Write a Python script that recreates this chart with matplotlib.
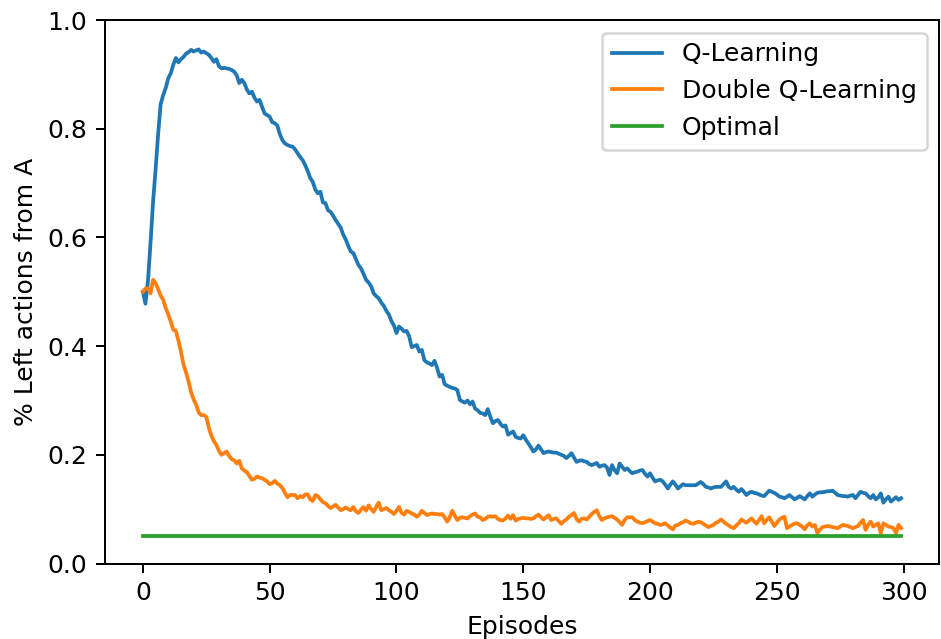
import numpy as np
import matplotlib
matplotlib.use("Agg")
import matplotlib.pyplot as plt

q_learning = [
    .500, .478, .520, .590, .665, .725, .790, .845, .862, .875,
    .893, .902, .918, .930, .922, .928, .932, .938, .941, .945,
    .942, .944, .946, .940, .942, .939, .936, .930, .923, .928,
    .915, .911, .912, .911, .910, .908, .905, .898, .884, .890,
    .884, .872, .865, .868, .857, .850, .853, .840, .828, .825,
    .822, .812, .810, .806, .790, .779, .773, .770, .768, .767,
    .762, .755, .748, .742, .733, .722, .709, .702, .688, .681,
    .684, .664, .663, .650, .647, .640, .632, .625, .618, .605,
    .596, .584, .574, .571, .560, .549, .543, .533, .522, .517,
    .510, .497, .492, .488, .480, .474, .465, .458, .446, .438,
    .424, .436, .432, .427, .428, .418, .398, .400, .402, .390,
    .393, .374, .370, .368, .365, .373, .360, .344, .347, .330,
    .327, .325, .323, .322, .319, .301, .298, .296, .300, .293,
    .298, .285, .282, .277, .276, .273, .284, .270, .258, .262,
    .264, .257, .252, .254, .237, .240, .243, .233, .231, .230,
    .236, .228, .221, .214, .206, .210, .217, .210, .203, .205,
    .206, .205, .204, .204, .202, .200, .198, .194, .198, .203,
    .195, .187, .189, .190, .188, .187, .183, .181, .183, .185,
    .178, .180, .181, .177, .163, .181, .172, .166, .184, .178,
    .172, .175, .170, .166, .168, .169, .171, .172, .165, .160,
    .166, .158, .151, .153, .154, .151, .145, .138, .145, .151,
    .145, .138, .142, .146, .144, .144, .144, .144, .144, .147,
    .150, .146, .141, .140, .138, .140, .141, .141, .141, .146,
    .151, .141, .138, .141, .136, .132, .137, .132, .126, .130,
    .132, .130, .129, .127, .125, .124, .129, .134, .132, .130,
    .127, .123, .122, .120, .123, .126, .122, .118, .121, .124,
    .121, .118, .124, .129, .123, .127, .130, .131, .131, .132,
    .133, .133, .134, .130, .126, .125, .124, .124, .123, .125,
    .126, .120, .126, .132, .130, .129, .124, .120, .126, .118,
    .122, .129, .112, .118, .123, .114, .118, .122, .117, .120,
]

double_q_learning = [
    .500, .506, .506, .497, .522, .516, .505, .493, .485, .470,
    .458, .445, .430, .428, .410, .390, .366, .352, .335, .315,
    .302, .292, .278, .273, .273, .270, .250, .235, .225, .218,
    .207, .200, .203, .206, .198, .192, .190, .184, .189, .175,
    .171, .168, .161, .154, .156, .160, .158, .157, .154, .151,
    .146, .148, .152, .147, .144, .139, .130, .122, .126, .126,
    .126, .120, .124, .122, .127, .127, .118, .115, .126, .124,
    .118, .113, .111, .106, .102, .105, .108, .103, .098, .100,
    .103, .100, .098, .104, .096, .093, .099, .104, .097, .107,
    .100, .095, .104, .112, .098, .100, .102, .098, .095, .091,
    .097, .104, .093, .090, .097, .095, .092, .090, .086, .090,
    .097, .093, .089, .091, .092, .091, .091, .090, .091, .085,
    .077, .085, .097, .088, .080, .084, .085, .084, .083, .087,
    .090, .092, .086, .085, .080, .082, .086, .087, .086, .087,
    .082, .080, .079, .083, .088, .082, .089, .079, .082, .083,
    .084, .083, .083, .082, .083, .087, .090, .085, .081, .085,
    .089, .080, .082, .083, .078, .073, .078, .081, .086, .089,
    .093, .082, .077, .082, .083, .081, .086, .091, .095, .098,
    .087, .080, .083, .085, .086, .087, .084, .081, .076, .071,
    .080, .085, .085, .085, .080, .077, .075, .074, .076, .078,
    .080, .077, .074, .073, .071, .072, .074, .070, .066, .063,
    .070, .071, .074, .076, .079, .077, .074, .073, .075, .077,
    .076, .073, .070, .067, .069, .071, .075, .077, .081, .077,
    .073, .070, .067, .065, .070, .074, .081, .078, .075, .079,
    .083, .078, .073, .080, .087, .074, .080, .085, .077, .069,
    .075, .081, .084, .086, .065, .068, .071, .073, .074, .071,
    .068, .063, .070, .074, .068, .071, .056, .062, .067, .068,
    .069, .068, .067, .066, .065, .068, .071, .070, .069, .067,
    .065, .067, .069, .075, .080, .062, .071, .077, .068, .071,
    .074, .056, .074, .071, .068, .067, .065, .056, .071, .065,
]

optimal_value = 0.05
labels = ["Q-Learning", "Double Q-Learning", "Optimal"]

episodes = np.arange(len(q_learning))

DPI = 180
fig = plt.figure(figsize=(941 / DPI, 639 / DPI), dpi=DPI)
ax = fig.add_axes([105 / 941, (639 - 563.5) / 639, (939 - 105) / 941, (563.5 - 20) / 639])

ax.plot(episodes, q_learning, label=labels[0], color="#1f77b4")
ax.plot(episodes, double_q_learning, label=labels[1], color="#ff7f0e")
ax.plot(episodes, [optimal_value] * len(episodes), label=labels[2], color="#2ca02c")

ax.set_ylim(0, 1.0)
ax.set_xlabel("Episodes")
ax.set_ylabel("% Left actions from A")
ax.legend(loc="upper right")

fig.savefig("out.png", dpi=DPI)
